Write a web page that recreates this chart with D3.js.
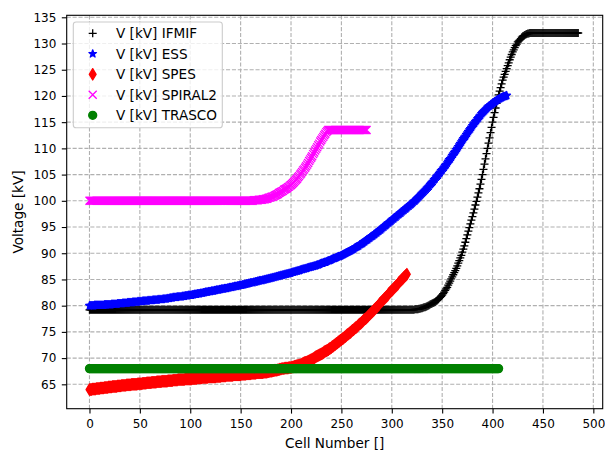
<!DOCTYPE html>
<html lang="en">
<head>
<meta charset="UTF-8">
<title>Voltage vs Cell Number</title>
<script src="https://cdn.jsdelivr.net/npm/d3@7"></script>
<style>
  body { margin: 0; background: #fff; }
  text { font-family: "DejaVu Sans", sans-serif; fill: #000; }
</style>
</head>
<body>
<svg id="chart" width="605" height="450"></svg>
<script>
// one value per cell, the index is the cell number
var ifmif = [
  79.2,79.2,79.2,79.2,79.2, 79.2,79.2,79.2,79.2,79.2, 79.2,79.2,79.2,79.2,79.2, 79.2,79.2,79.2,79.2,79.2,
  79.2,79.2,79.2,79.2,79.2, 79.2,79.2,79.2,79.2,79.2, 79.2,79.2,79.2,79.2,79.2, 79.2,79.2,79.2,79.2,79.2,
  79.2,79.2,79.2,79.2,79.2, 79.2,79.2,79.2,79.2,79.2, 79.2,79.2,79.2,79.2,79.2, 79.2,79.2,79.2,79.2,79.2,
  79.2,79.2,79.2,79.2,79.2, 79.2,79.2,79.2,79.2,79.2, 79.2,79.2,79.2,79.2,79.2, 79.2,79.2,79.2,79.2,79.2,
  79.2,79.2,79.2,79.2,79.2, 79.2,79.2,79.2,79.2,79.2, 79.2,79.2,79.2,79.2,79.2, 79.2,79.2,79.2,79.2,79.2,
  79.2,79.2,79.2,79.2,79.2, 79.2,79.2,79.2,79.2,79.2, 79.2,79.2,79.2,79.2,79.2, 79.2,79.2,79.2,79.2,79.2,
  79.2,79.2,79.2,79.2,79.2, 79.2,79.2,79.2,79.2,79.2, 79.2,79.2,79.2,79.2,79.2, 79.2,79.2,79.2,79.2,79.2,
  79.2,79.2,79.2,79.2,79.2, 79.2,79.2,79.2,79.2,79.2, 79.2,79.2,79.2,79.2,79.2, 79.2,79.2,79.2,79.2,79.2,
  79.2,79.2,79.2,79.2,79.2, 79.2,79.2,79.2,79.2,79.2, 79.2,79.2,79.2,79.2,79.2, 79.2,79.2,79.2,79.2,79.2,
  79.2,79.2,79.2,79.2,79.2, 79.2,79.2,79.2,79.2,79.2, 79.2,79.2,79.2,79.2,79.2, 79.2,79.2,79.2,79.2,79.2,
  79.2,79.2,79.2,79.2,79.2, 79.2,79.2,79.2,79.2,79.2, 79.2,79.2,79.2,79.2,79.2, 79.2,79.2,79.2,79.2,79.2,
  79.2,79.2,79.2,79.2,79.2, 79.2,79.2,79.2,79.2,79.2, 79.2,79.2,79.2,79.2,79.2, 79.2,79.2,79.2,79.2,79.2,
  79.2,79.2,79.2,79.2,79.2, 79.2,79.2,79.2,79.2,79.2, 79.2,79.2,79.2,79.2,79.2, 79.2,79.2,79.2,79.2,79.2,
  79.2,79.2,79.2,79.2,79.2, 79.2,79.2,79.2,79.2,79.2, 79.2,79.2,79.2,79.2,79.2, 79.2,79.2,79.2,79.2,79.2,
  79.2,79.2,79.2,79.2,79.2, 79.2,79.2,79.2,79.2,79.2, 79.2,79.2,79.2,79.2,79.2, 79.2,79.2,79.2,79.2,79.2,
  79.2,79.2,79.2,79.2,79.2, 79.2,79.2,79.2,79.2,79.2, 79.2,79.2,79.2,79.2,79.2, 79.2,79.2,79.2,79.2,79.2,
  79.2,
  79.2,79.2,79.3,79.3,79.3, 79.3,79.4,79.4,79.5,79.5, 79.6,79.7,79.7,79.8,79.9, 80.0,80.1,80.2,80.3,80.4,
  80.5,80.6,80.7,80.9,81.0, 81.2,81.4,81.6,81.8,82.0, 82.3,82.6,82.9,83.2,83.5, 83.9,84.3,84.7,85.1,85.5,
  85.9,86.3,86.7,87.1,87.6, 88.1,88.6,89.1,89.6,90.2, 90.8,91.4,92.1,92.8,93.5, 94.2,94.9,95.6,96.3,97.0,
  97.7,98.4,99.2,99.9,100.7, 101.5,102.3,103.2,104.1,105.0, 106.0,107.0,108.0,109.0,110.0, 111.0,112.0,113.0,114.0,115.0,
  115.9,116.8,117.7,118.6,119.5, 120.2,120.9,121.6,122.3,123.0, 123.6,124.1,124.7,125.2,125.8, 126.3,126.9,127.4,127.9,128.4,
  128.8,129.2,129.6,129.9,130.3, 130.5,130.7,130.9,131.2,131.4, 131.5,131.6,131.7,131.8,131.9, 131.9,
  132,132,132,132,132, 132,132,132,132,132, 132,132,132,132,132, 132,132,132,132,132,
  132,132,132,132,132, 132,132,132,132,132, 132,132,132,132,132, 132,132,132,132,132,
  132,132,132,132,132, 132,132,132,132
];

var ess = [
  80.0,80.0,80.0,80.0,80.0, 80.1,80.1,80.1,80.1,80.1, 80.1,80.1,80.1,80.1,80.1, 80.2,80.2,80.2,80.2,80.2,
  80.2,80.2,80.3,80.3,80.3, 80.3,80.3,80.3,80.4,80.4, 80.4,80.4,80.4,80.5,80.5, 80.5,80.5,80.5,80.6,80.6,
  80.6,80.6,80.6,80.7,80.7, 80.7,80.7,80.7,80.8,80.8, 80.8,80.8,80.8,80.9,80.9, 80.9,80.9,80.9,81.0,81.0,
  81.0,81.0,81.0,81.1,81.1, 81.1,81.1,81.1,81.2,81.2, 81.2,81.2,81.2,81.3,81.3, 81.3,81.3,81.4,81.4,81.4,
  81.5,81.5,81.5,81.6,81.6, 81.6,81.6,81.7,81.7,81.7, 81.7,81.7,81.8,81.8,81.8, 81.9,81.9,81.9,82.0,82.0,
  82.0,82.0,82.1,82.1,82.2, 82.2,82.2,82.3,82.3,82.3, 82.4,82.4,82.4,82.5,82.5, 82.6,82.6,82.6,82.7,82.7,
  82.7,82.8,82.8,82.8,82.9, 82.9,83.0,83.0,83.0,83.1, 83.1,83.2,83.2,83.2,83.3, 83.3,83.3,83.4,83.4,83.5,
  83.5,83.5,83.6,83.6,83.7, 83.7,83.7,83.8,83.8,83.9, 83.9,83.9,84.0,84.0,84.1, 84.1,84.2,84.2,84.3,84.3,
  84.4,84.4,84.4,84.5,84.5, 84.6,84.6,84.7,84.7,84.8, 84.8,84.8,84.9,84.9,85.0, 85.0,85.1,85.1,85.2,85.2,
  85.3,85.3,85.4,85.4,85.5, 85.5,85.6,85.6,85.7,85.7, 85.8,85.8,85.9,85.9,86.0, 86.0,86.1,86.1,86.2,86.2,
  86.3,86.4,86.4,86.5,86.5, 86.6,86.6,86.7,86.7,86.8, 86.9,86.9,87.0,87.0,87.1, 87.1,87.2,87.3,87.3,87.4,
  87.4,87.5,87.5,87.6,87.6, 87.7,87.8,87.8,87.9,88.0, 88.1,88.1,88.2,88.3,88.3, 88.4,88.5,88.6,88.6,88.7,
  88.8,88.9,89.0,89.0,89.1, 89.2,89.3,89.4,89.4,89.5, 89.6,89.7,89.8,89.9,90.0, 90.1,90.2,90.3,90.4,90.5,
  90.6,90.7,90.8,91.0,91.1, 91.2,91.3,91.4,91.6,91.7, 91.8,91.9,92.1,92.2,92.4, 92.5,92.6,92.8,92.9,93.1,
  93.2,93.3,93.5,93.6,93.8, 93.9,94.1,94.2,94.4,94.5, 94.7,94.9,95.0,95.2,95.3, 95.5,95.7,95.8,96.0,96.1,
  96.3,96.5,96.6,96.8,96.9, 97.1,97.3,97.4,97.6,97.7, 97.9,98.1,98.2,98.4,98.5, 98.7,98.9,99.0,99.2,99.3,
  99.5,99.7,99.9,100.0,100.2, 100.4,100.6,100.8,101.0,101.2, 101.4,101.6,101.8,102.0,102.2, 102.4,102.6,102.8,103.1,103.3,
  103.5,103.7,104.0,104.2,104.5, 104.7,104.9,105.2,105.4,105.7, 105.9,106.2,106.4,106.7,106.9, 107.2,107.5,107.8,108.0,108.3,
  108.6,108.9,109.2,109.4,109.7, 110.0,110.3,110.6,110.9,111.2, 111.5,111.8,112.1,112.3,112.6, 112.9,113.2,113.5,113.7,114.0,
  114.3,114.6,114.8,115.1,115.3, 115.6,115.8,116.1,116.3,116.6, 116.8,117.0,117.2,117.4,117.6, 117.8,118.0,118.1,118.3,118.4,
  118.6,118.7,118.9,119.0,119.2, 119.3,119.4,119.5,119.6,119.7, 119.8,119.9,119.9,120.0,120.1
];

var spes = [
  64.0,64.0,64.0,64.1,64.1, 64.1,64.1,64.2,64.2,64.2, 64.2,64.3,64.3,64.3,64.3, 64.4,64.4,64.4,64.4,64.5,
  64.5,64.5,64.5,64.6,64.6, 64.6,64.6,64.6,64.7,64.7, 64.7,64.7,64.8,64.8,64.8, 64.8,64.8,64.9,64.9,64.9,
  64.9,64.9,65.0,65.0,65.0, 65.0,65.0,65.0,65.1,65.1, 65.1,65.1,65.1,65.2,65.2, 65.2,65.2,65.3,65.3,65.3,
  65.3,65.3,65.4,65.4,65.4, 65.4,65.4,65.5,65.5,65.5, 65.5,65.5,65.6,65.6,65.6, 65.6,65.6,65.6,65.7,65.7,
  65.7,65.7,65.7,65.8,65.8, 65.8,65.8,65.8,65.9,65.9, 65.9,65.9,65.9,65.9,65.9, 66.0,66.0,66.0,66.0,66.0,
  66.0,66.0,66.1,66.1,66.1, 66.1,66.1,66.2,66.2,66.2, 66.2,66.2,66.3,66.3,66.3, 66.3,66.3,66.3,66.4,66.4,
  66.4,66.4,66.4,66.4,66.4, 66.4,66.5,66.5,66.5,66.5, 66.5,66.6,66.6,66.6,66.6, 66.6,66.7,66.7,66.7,66.7,
  66.7,66.7,66.7,66.8,66.8, 66.8,66.8,66.8,66.8,66.8, 66.8,66.9,66.9,66.9,66.9, 66.9,67.0,67.0,67.0,67.0,
  67.0,67.1,67.1,67.1,67.1, 67.1,67.2,67.2,67.2,67.2, 67.2,67.2,67.2,67.3,67.3, 67.3,67.3,67.4,67.4,67.5,
  67.5,67.5,67.6,67.6,67.7, 67.7,67.7,67.8,67.8,67.9, 67.9,68.0,68.0,68.0,68.1, 68.1,68.1,68.1,68.2,68.2,
  68.2,68.3,68.3,68.4,68.5, 68.5,68.6,68.6,68.7,68.7, 68.8,68.9,69.0,69.1,69.2, 69.2,69.3,69.4,69.5,69.6,
  69.7,69.8,69.9,70.0,70.2, 70.3,70.4,70.5,70.6,70.7, 70.8,70.9,71.0,71.2,71.3, 71.4,71.5,71.6,71.8,71.9,
  72.0,72.2,72.3,72.5,72.6, 72.8,72.9,73.1,73.2,73.4, 73.5,73.7,73.8,74.0,74.1, 74.3,74.5,74.6,74.8,74.9,
  75.1,75.3,75.4,75.6,75.8, 75.9,76.1,76.3,76.5,76.6, 76.8,77.0,77.2,77.4,77.5, 77.7,77.9,78.1,78.3,78.5,
  78.7,78.9,79.1,79.3,79.5, 79.7,79.9,80.1,80.4,80.6, 80.8,81.0,81.2,81.4,81.6, 81.8,82.0,82.3,82.5,82.7,
  82.9,83.1,83.3,83.5,83.7, 83.9,84.1,84.4,84.6,84.8, 85.0,85.2,85.4,85.6,85.8, 86.0
];

var spiral2 = [
  100,100,100,100,100, 100,100,100,100,100, 100,100,100,100,100, 100,100,100,100,100,
  100,100,100,100,100, 100,100,100,100,100, 100,100,100,100,100, 100,100,100,100,100,
  100,100,100,100,100, 100,100,100,100,100, 100,100,100,100,100, 100,100,100,100,100,
  100,100,100,100,100, 100,100,100,100,100, 100,100,100,100,100, 100,100,100,100,100,
  100,100,100,100,100, 100,100,100,100,100, 100,100,100,100,100, 100,100,100,100,100,
  100,100,100,100,100, 100,100,100,100,100, 100,100,100,100,100, 100,100,100,100,100,
  100,100,100,100,100, 100,100,100,100,100, 100,100,100,100,100, 100,100,100,100,100,
  100,100,100,100,100, 100,100,100,100,100, 100,100,100,100,100, 100,100,100,100,100,
  100.0,100.0,100.0,100.1,100.1, 100.1,100.1,100.1,100.2,100.2, 100.2,100.2,100.3,100.3,100.3, 100.4,100.4,100.5,100.6,100.6,
  100.7,100.8,100.8,100.9,101.0, 101.1,101.2,101.3,101.5,101.6, 101.7,101.8,101.9,102.1,102.2, 102.3,102.4,102.6,102.7,102.9,
  103.0,103.2,103.4,103.6,103.8, 104.0,104.2,104.5,104.7,105.0, 105.2,105.5,105.8,106.0,106.3, 106.6,106.9,107.2,107.6,107.9,
  108.2,108.5,108.9,109.2,109.6, 109.9,110.2,110.6,110.9,111.3, 111.6,111.9,112.2,112.5,112.8, 113.1,113.3,113.5,113.5,113.5,
  113.5,113.5,113.5,113.5,113.5, 113.5,113.5,113.5,113.5,113.5, 113.5,113.5,113.5,113.5,113.5, 113.5,113.5,113.5,113.5,113.5,
  113.5,113.5,113.5,113.5,113.5, 113.5,113.5,113.5,113.5,113.5, 113.5,113.5,113.5,113.5,113.5, 113.5
];

var trasco = [
  68,68,68,68,68, 68,68,68,68,68, 68,68,68,68,68, 68,68,68,68,68,
  68,68,68,68,68, 68,68,68,68,68, 68,68,68,68,68, 68,68,68,68,68,
  68,68,68,68,68, 68,68,68,68,68, 68,68,68,68,68, 68,68,68,68,68,
  68,68,68,68,68, 68,68,68,68,68, 68,68,68,68,68, 68,68,68,68,68,
  68,68,68,68,68, 68,68,68,68,68, 68,68,68,68,68, 68,68,68,68,68,
  68,68,68,68,68, 68,68,68,68,68, 68,68,68,68,68, 68,68,68,68,68,
  68,68,68,68,68, 68,68,68,68,68, 68,68,68,68,68, 68,68,68,68,68,
  68,68,68,68,68, 68,68,68,68,68, 68,68,68,68,68, 68,68,68,68,68,
  68,68,68,68,68, 68,68,68,68,68, 68,68,68,68,68, 68,68,68,68,68,
  68,68,68,68,68, 68,68,68,68,68, 68,68,68,68,68, 68,68,68,68,68,
  68,68,68,68,68, 68,68,68,68,68, 68,68,68,68,68, 68,68,68,68,68,
  68,68,68,68,68, 68,68,68,68,68, 68,68,68,68,68, 68,68,68,68,68,
  68,68,68,68,68, 68,68,68,68,68, 68,68,68,68,68, 68,68,68,68,68,
  68,68,68,68,68, 68,68,68,68,68, 68,68,68,68,68, 68,68,68,68,68,
  68,68,68,68,68, 68,68,68,68,68, 68,68,68,68,68, 68,68,68,68,68,
  68,68,68,68,68, 68,68,68,68,68, 68,68,68,68,68, 68,68,68,68,68,
  68,68,68,68,68, 68,68,68,68,68, 68,68,68,68,68, 68,68,68,68,68,
  68,68,68,68,68, 68,68,68,68,68, 68,68,68,68,68, 68,68,68,68,68,
  68,68,68,68,68, 68,68,68,68,68, 68,68,68,68,68, 68,68,68,68,68,
  68,68,68,68,68, 68,68,68,68,68, 68,68,68,68,68, 68,68,68,68,68,
  68,68,68,68,68, 68,68
];

var names = ["V [kV] IFMIF", "V [kV] ESS", "V [kV] SPES", "V [kV] SPIRAL2", "V [kV] TRASCO"];
var xTicks = [0, 50, 100, 150, 200, 250, 300, 350, 400, 450, 500];
var yTicks = [65, 70, 75, 80, 85, 90, 95, 100, 105, 110, 115, 120, 125, 130, 135];

var series = [
  { name: names[0], values: ifmif,   color: "#000000", marker: "plus" },
  { name: names[1], values: ess,     color: "#0000ff", marker: "star" },
  { name: names[2], values: spes,    color: "#ff0000", marker: "thin_diamond" },
  { name: names[3], values: spiral2, color: "#ff00ff", marker: "x" },
  { name: names[4], values: trasco,  color: "#008000", marker: "circle" }
];

var svg = d3.select("#chart");
var plotL = 66.7, plotR = 602.7, plotT = 15.3, plotB = 408.7;
var tickFont = 12, labelFont = 13.6;

var x = d3.scaleLinear().domain([-22.6, 509.3]).range([plotL, plotR]);
var y = d3.scaleLinear().domain([60.35, 135.38]).range([plotB, plotT]);

// marker shapes like matplotlib, markersize 6pt
var ms = 8, h = ms / 2;
function starPath(r) {
  var pts = [];
  for (var i = 0; i < 10; i++) {
    var rr = i % 2 === 0 ? r : r * 0.381966;
    var a = -Math.PI / 2 + i * Math.PI / 5;
    pts.push([rr * Math.cos(a), rr * Math.sin(a)]);
  }
  return "M" + pts.map(function(p) { return p[0].toFixed(2) + "," + p[1].toFixed(2); }).join("L") + "Z";
}
var dv = ms * Math.SQRT1_2, dh = dv * 0.6;
var shapes = {
  plus: { d: "M" + (-h) + ",0H" + h + "M0," + (-h) + "V" + h, filled: false },
  x: { d: "M" + (-h) + "," + (-h) + "L" + h + "," + h + "M" + (-h) + "," + h + "L" + h + "," + (-h), filled: false },
  star: { d: starPath(h), filled: true },
  thin_diamond: { d: "M0," + (-dv) + "L" + dh + ",0L0," + dv + "L" + (-dh) + ",0Z", filled: true },
  circle: { d: d3.arc()({ innerRadius: 0, outerRadius: h, startAngle: 0, endAngle: 2 * Math.PI }), filled: true }
};

// grid
var grid = svg.append("g");
grid.selectAll(".gx").data(xTicks).enter().append("line")
  .attr("x1", function(d) { return x(d); }).attr("x2", function(d) { return x(d); })
  .attr("y1", plotT).attr("y2", plotB);
grid.selectAll(".gy").data(yTicks).enter().append("line")
  .attr("y1", function(d) { return y(d); }).attr("y2", function(d) { return y(d); })
  .attr("x1", plotL).attr("x2", plotR);
grid.selectAll("line")
  .attr("stroke", "#b0b0b0").attr("stroke-width", 1.1).attr("stroke-dasharray", "4.1,1.8");

// data markers
svg.append("clipPath").attr("id", "clip").append("rect")
  .attr("x", plotL).attr("y", plotT).attr("width", plotR - plotL).attr("height", plotB - plotT);
var plot = svg.append("g").attr("clip-path", "url(#clip)");

function drawMarker(sel, s) {
  var shp = shapes[s.marker];
  sel.attr("d", shp.d)
    .attr("fill", shp.filled ? s.color : "none")
    .attr("stroke", s.color)
    .attr("stroke-width", 1.3)
    .attr("stroke-linejoin", "round");
}

series.forEach(function(s) {
  var g = plot.append("g");
  g.selectAll("path").data(s.values).enter().append("path")
    .attr("transform", function(d, i) { return "translate(" + x(i) + "," + y(d) + ")"; })
    .call(drawMarker, s);
});

// axes
var xAxis = d3.axisBottom(x).tickValues(xTicks).tickSize(4.9).tickPadding(5.5).tickSizeOuter(0);
var yAxis = d3.axisLeft(y).tickValues(yTicks).tickSize(4.9).tickPadding(5.5).tickSizeOuter(0);

var gx = svg.append("g").attr("transform", "translate(0," + plotB + ")").call(xAxis);
var gy = svg.append("g").attr("transform", "translate(" + plotL + ",0)").call(yAxis);
[gx, gy].forEach(function(g) {
  g.select(".domain").remove();
  g.selectAll(".tick line").attr("stroke", "#000").attr("stroke-width", 1.1);
  g.selectAll(".tick text").attr("fill", "#000")
    .style("font-family", "'DejaVu Sans', sans-serif").style("font-size", tickFont + "px");
});

// spines
svg.append("rect")
  .attr("x", plotL).attr("y", plotT).attr("width", plotR - plotL).attr("height", plotB - plotT)
  .attr("fill", "none").attr("stroke", "#000").attr("stroke-width", 1.1);

// axis labels
svg.append("text")
  .attr("x", (plotL + plotR) / 2).attr("y", 447.5)
  .attr("text-anchor", "middle").style("font-size", labelFont + "px")
  .text("Cell Number []");
svg.append("text")
  .attr("transform", "translate(23," + (plotT + plotB) / 2 + ") rotate(-90)")
  .attr("text-anchor", "middle").style("font-size", labelFont + "px")
  .text("Voltage [kV]");

// legend
var legend = svg.append("g");
legend.append("rect")
  .attr("x", 73.3).attr("y", 22).attr("width", 149).attr("height", 105.7)
  .attr("rx", 2.8).attr("ry", 2.8)
  .attr("fill", "#fff").attr("fill-opacity", 0.8)
  .attr("stroke", "#cccccc").attr("stroke-width", 1.1);

var rowY = function(i) { return 33.3 + i * 20.5; };
series.forEach(function(s, i) {
  legend.append("path")
    .attr("transform", "translate(92.7," + rowY(i) + ")")
    .call(drawMarker, s);
  legend.append("text")
    .attr("x", 116).attr("y", rowY(i) + 5)
    .style("font-size", labelFont + "px")
    .text(s.name);
});
</script>
</body>
</html>
